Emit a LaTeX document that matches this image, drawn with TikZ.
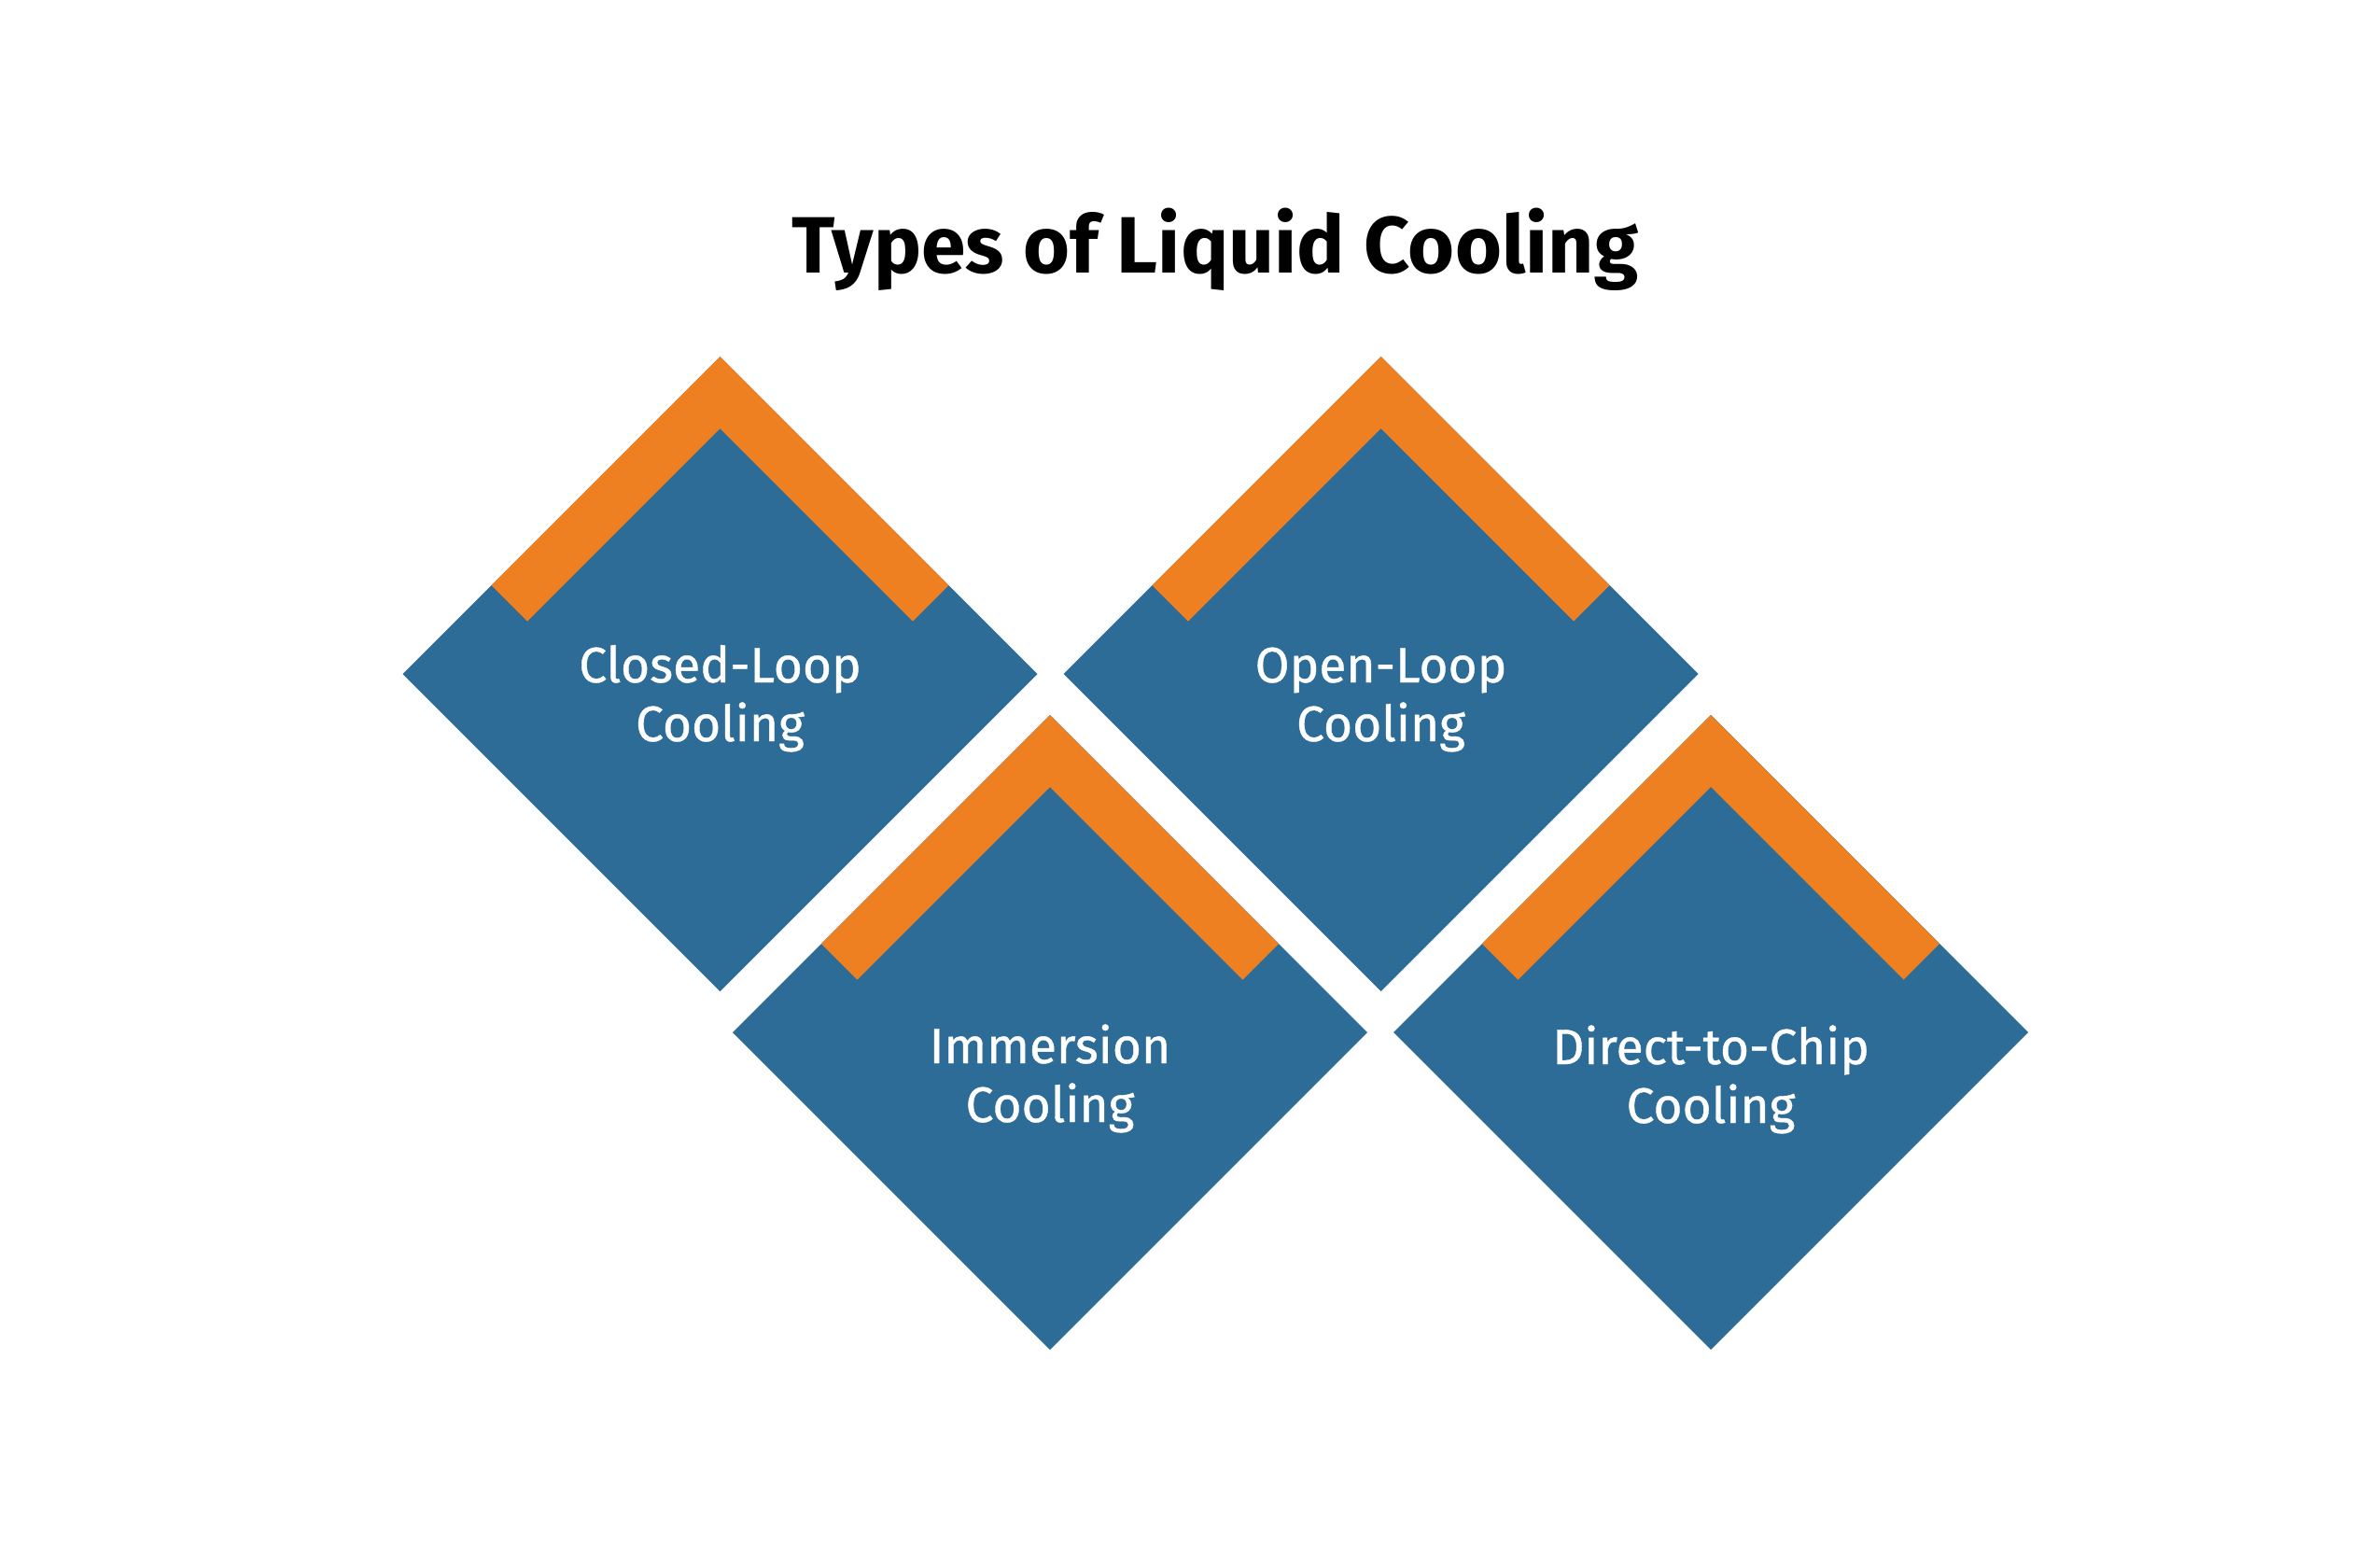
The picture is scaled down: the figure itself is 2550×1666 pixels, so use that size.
\documentclass[tikz,border=0pt]{standalone}
\usepackage{fontspec}
\setmainfont{Fira Sans}
\newfontfamily\lblfont[FakeBold=0.7]{Fira Sans}
\usetikzlibrary{shapes.geometric}
\definecolor{gemblue}{RGB}{45,108,150}
\definecolor{gemorange}{RGB}{238,128,34}
\begin{document}
\begin{tikzpicture}[x=0.3pt,y=-0.3pt,
  gem/.style={diamond,aspect=1,fill=gemblue,draw=none,inner sep=0pt,outer sep=0pt,minimum width=204pt,minimum height=204pt},
  chev/.style={fill=gemorange},
  lbl/.style={text=white,align=center,anchor=base,inner sep=0pt,font=\lblfont\fontsize{16}{18.9}\selectfont},
  ttl/.style={text=black,anchor=base,inner sep=0pt,font=\fontsize{25.7}{28}\selectfont\bfseries}]
\useasboundingbox[fill=white] (0,0) rectangle (2550,1666);
\node[ttl] (title) at (1302,292) {Types of Liquid Cooling};
\foreach \n/\x/\y in {d1/771.5/722, d2/1479.5/722, d3/1125/1106, d4/1833/1106}{
  \node[gem] (\n) at (\x,\y) {};
  \fill[chev] (\n.north) -- ++(245,245) -- ++(-38.5,38.5) -- ++(-206.5,-206.5)
     -- ++(-206.5,206.5) -- ++(-38.5,-38.5) -- cycle;
}
\node[lbl] (t1) at (771.5,794) {Closed-Loop\\Cooling};
\node[lbl] (t2) at (1479.5,794) {Open-Loop\\Cooling};
\node[lbl] (t3) at (1125,1202) {Immersion\\Cooling};
\node[lbl] (t4) at (1833,1203) {Direct-to-Chip\\Cooling};
\end{tikzpicture}
\end{document}
